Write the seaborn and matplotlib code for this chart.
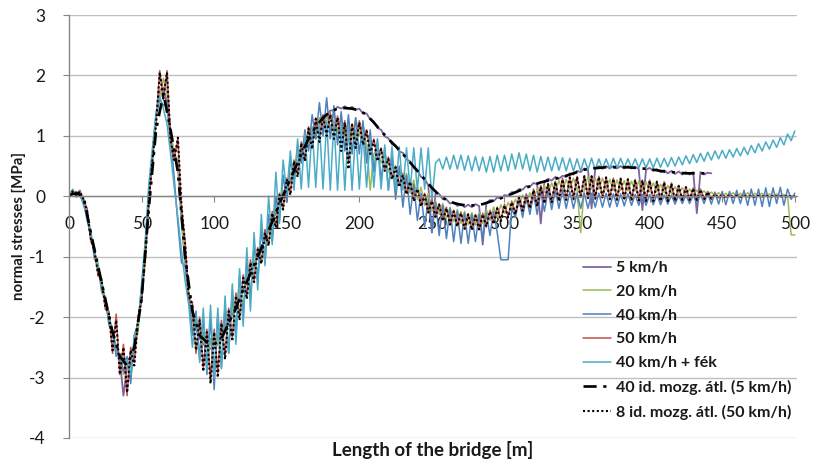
import numpy as np
import matplotlib
matplotlib.use("Agg")
import matplotlib.pyplot as plt
import seaborn as sns

# ---------------- data ----------------
X_FULL = np.arange(0, 500.01, 2.5)      # 20 / 40 / 50 km/h, fék, 8 id. átl.
X_5KMH = np.arange(0, 442.51, 2.5)      # 5 km/h
X_AVG40 = np.arange(0, 440.01, 5)       # 40 id. mozg. átl.

X_TICKS = [0, 50, 100, 150, 200, 250, 300, 350, 400, 450, 500]
Y_TICKS = [3, 2, 1, 0, -1, -2, -3, -4]
Y_TICK_LABELS = ["3", "2", "1", "0", "-1", "-2", "-3", "-4"]

V_5KMH = [
    0.0, 0.06, 0.07, 0.05, -0.05, -0.35, -0.68, -0.95, -1.2, -1.45, -1.72, -1.98, -2.25, -2.5, -2.7, -3.3, -2.82, -2.8, -2.5, -2.1,
    -1.65, -0.95, -0.1, 0.65, 1.3, 1.75, 1.8, 1.55, 0.9, 0.7, 0.5, -0.4, -1.1, -1.7, -2.05, -2.2, -2.35, -2.45, -2.5, -2.52,
    -2.5, -2.45, -2.38, -2.25, -2.1, -1.95, -1.82, -1.68, -1.55, -1.42, -1.28, -1.14, -1.0, -0.86, -0.72, -0.57, -0.42, -0.27, -0.12, 0.02,
    0.17, 0.27, 0.45, 0.55, 0.72, 0.81, 0.97, 1.04, 1.17, 1.22, 1.33, 1.34, 1.42, 1.42, 1.48, 1.45, 1.49, 1.45, 1.48, 1.43,
    1.45, 1.37, 1.37, 1.27, 1.24, 1.13, 1.1, 0.99, 0.96, 0.86, 0.84, 0.74, 0.72, 0.61, 0.58, 0.47, 0.43, 0.32, 0.29, 0.18,
    -0.6, 0.05, 0.04, -0.05, -0.05, -0.12, -0.1, -0.16, -0.13, -0.18, -0.14, -0.18, -0.13, -0.16, -0.8, -0.12, -0.06, -0.08, -0.02, -0.04,
    0.02, 0.01, 0.07, 0.06, 0.12, 0.11, 0.17, 0.16, 0.22, 0.2, -0.45, 0.24, 0.29, 0.26, 0.32, 0.29, 0.34, 0.32, 0.38, 0.36,
    0.42, 0.4, 0.46, 0.44, -0.2, 0.45, 0.5, 0.46, 0.5, 0.46, 0.5, 0.46, 0.5, 0.46, 0.5, 0.46, 0.49, 0.45, -0.23, 0.44,
    0.47, 0.42, 0.45, 0.4, 0.43, 0.38, 0.42, 0.37, 0.41, 0.36, 0.4, 0.36, 0.4, -0.28, 0.4, 0.36, 0.39, 0.38,
]

V_20KMH = [
    0.0, 0.12, -0.02, 0.08, -0.12, -0.35, -0.55, -1.05, -1.1, -1.6, -1.65, -2.15, -2.2, -2.6, -2.6, -2.95, -2.75, -3.0, -2.45, -2.25,
    -1.6, -1.1, 0.0, 0.55, 1.3, 1.65, 1.95, 1.7, 1.1, 0.7, 0.6, -0.35, -1.1, -1.6, -2.2, -2.05, -2.6, -2.25, -2.8, -2.35,
    -2.85, -2.3, -2.7, -2.1, -2.45, -1.8, -2.15, -1.55, -1.85, -1.3, -1.55, -1.05, -1.25, -0.8, -0.95, -0.45, -0.65, -0.15, -0.3, 0.1,
    -0.05, 0.4, 0.25, 0.7, 0.55, 0.95, 0.8, 1.15, 0.95, 1.3, 1.05, 1.35, 1.1, 1.38, 1.05, 1.3, 1.0, 1.25, 0.95, 1.3,
    1.0, 1.2, 0.85, 0.1, 0.7, 0.8, 0.55, 0.72, 0.4, 0.6, 0.28, 0.48, 0.15, 0.38, 0.05, 0.27, -0.05, 0.15, -0.15, 0.05,
    -0.25, -0.08, -0.3, -0.12, -0.37, -0.18, -0.42, -0.22, -0.45, -0.25, -0.47, -0.27, -0.48, -0.27, -0.45, -0.22, -0.4, -0.18, -0.35, -0.14,
    -0.28, -0.1, -0.22, -0.05, -0.16, 0.02, -0.12, 0.06, -0.06, 0.12, 0.0, 0.18, 0.04, 0.22, 0.08, 0.26, 0.1, 0.28, 0.12, 0.3,
    0.12, -0.6, 0.14, 0.32, 0.12, 0.3, 0.12, 0.3, 0.11, 0.28, 0.1, 0.27, 0.1, 0.26, 0.09, 0.25, 0.09, 0.25, 0.08, 0.24,
    0.08, 0.22, 0.07, 0.2, 0.06, 0.18, 0.05, 0.16, 0.05, 0.14, 0.04, 0.12, 0.03, 0.1, 0.02, 0.09, 0.02, 0.07, 0.01, 0.06,
    0.0, 0.05, 0.0, 0.06, -0.01, 0.05, 0.0, 0.06, -0.01, 0.05, 0.0, 0.05, 0.0, 0.04, 0.0, 0.04, 0.0, 0.03, 0.0, -0.64,
    -0.64,
]

V_40KMH = [
    0.0, 0.05, 0.08, 0.0, -0.1, -0.4, -0.6, -1.0, -1.15, -1.55, -1.7, -2.1, -2.25, -2.65, -2.6, -2.9, -2.65, -3.1, -2.3, -2.1,
    -1.5, -0.8, 0.1, 0.75, 1.35, 1.6, 1.5, 1.55, 1.0, 0.3, -0.45, -1.1, -1.15, -1.65, -2.3, -1.9, -2.7, -2.0, -2.95, -2.0,
    -3.2, -1.95, -2.85, -1.85, -2.6, -1.6, -2.3, -1.3, -2.0, -1.05, -1.7, -0.8, -1.4, -0.55, -1.1, -0.3, -0.75, 0.0, -0.4, 0.35,
    -0.1, 0.6, 0.25, 0.85, 0.55, 1.1, 0.75, 1.35, 0.95, 1.55, 1.0, 1.63, 0.95, 1.5, 0.85, 1.4, 0.75, 1.35, 0.7, 1.3,
    0.7, 1.25, 0.55, 1.1, 0.4, 0.95, 0.25, 0.8, 0.1, 0.65, -0.05, 0.5, -0.18, 0.35, -0.3, 0.2, -0.4, 0.05, -0.5, -0.05,
    -0.6, -0.1, -0.65, -0.15, -0.7, -0.2, -0.75, -0.25, -0.78, -0.28, -0.78, -0.3, -0.75, -0.3, -0.7, -0.28, -0.65, -0.25, -0.6, -1.05,
    -1.05, -1.05, -0.2, -0.35, -0.05, -0.35, 0.0, -0.3, 0.05, -0.3, 0.08, -0.25, 0.1, -0.22, 0.1, -0.2, 0.1, -0.2, 0.08, -0.2,
    0.05, -0.2, 0.05, -0.2, 0.05, -0.18, 0.05, -0.18, 0.05, -0.18, 0.04, -0.17, 0.04, -0.16, 0.04, -0.15, 0.03, -0.15, 0.03, -0.15,
    0.03, -0.14, 0.03, -0.14, 0.02, -0.13, 0.02, -0.13, 0.02, -0.12, 0.02, -0.12, 0.02, -0.12, 0.03, -0.12, 0.05, -0.13, 0.07, -0.13,
    0.08, -0.14, 0.08, -0.12, 0.1, -0.12, 0.1, -0.15, 0.12, -0.15, 0.12, -0.17, 0.14, -0.17, 0.14, -0.12, 0.15, -0.15, 0.12, -0.05,
    0.05,
]

V_50KMH = [
    0.0, 0.1, 0.0, 0.1, -0.08, -0.2, -0.75, -0.85, -1.32, -1.36, -1.87, -1.9, -2.6, -1.95, -2.95, -2.45, -3.3, -2.5, -2.75, -2.0,
    -1.75, -0.95, -0.1, 0.65, 1.25, 2.08, 1.6, 2.08, 0.9, 0.62, 0.95, -0.2, -0.75, -1.7, -1.75, -2.6, -2.0, -2.85, -2.2, -3.05,
    -2.2, -2.95, -2.05, -2.65, -1.85, -2.35, -1.6, -2.0, -1.3, -1.65, -1.05, -1.4, -0.85, -1.1, -0.55, -0.8, -0.25, -0.5, 0.05, -0.2,
    0.3, 0.05, 0.6, 0.35, 0.9, 0.6, 1.15, 0.8, 1.3, 0.95, 1.35, 1.05, 1.38, 1.05, 1.33, 0.95, 1.25, 0.55, 1.2, 0.9,
    1.25, 0.9, 1.1, 0.75, 0.95, 0.62, 0.8, 0.45, 0.65, 0.3, 0.5, 0.18, 0.38, 0.05, 0.27, -0.06, 0.15, -0.15, 0.05, -0.25,
    -0.05, -0.32, -0.12, -0.39, -0.18, -0.45, -0.23, -0.49, -0.26, -0.52, -0.29, -0.54, -0.3, -0.53, -0.28, -0.49, -0.23, -0.44, -0.18, -0.39,
    -0.13, -0.34, -0.08, -0.28, 0.0, -0.22, 0.04, -0.19, 0.12, -0.15, 0.18, -0.1, 0.21, -0.08, 0.25, -0.06, 0.3, -0.05, 0.32, -0.03,
    0.33, -0.02, 0.34, -0.02, 0.34, -0.03, 0.33, -0.03, 0.32, -0.04, 0.3, -0.05, 0.3, -0.05, 0.29, -0.06, 0.28, -0.06, 0.27, -0.07,
    0.27, -0.07, 0.25, -0.08, 0.24, -0.08, 0.22, -0.08, 0.18, -0.06, 0.16, -0.06, 0.14, -0.06, 0.12, -0.05, 0.08, -0.04, 0.04, -0.03,
    0.03, -0.02, 0.02, -0.02, 0.02, -0.01, 0.02, -0.01, 0.01, -0.01, 0.01, -0.01, 0.01, -0.01, 0.01, 0.0, 0.01, 0.0, 0.0, 0.0,
    0.0,
]

V_40KMH_FEK = [
    0.0, 0.1, 0.05, 0.05, -0.15, -0.3, -0.65, -0.9, -1.2, -1.45, -1.75, -2.0, -2.3, -2.55, -2.7, -2.75, -2.7, -2.95, -2.3, -2.15,
    -1.45, -0.75, 0.2, 0.8, 1.4, 1.65, 1.45, 1.2, 0.7, 0.15, -0.35, -0.9, -1.4, -1.8, -2.5, -1.95, -2.75, -1.85, -2.9, -1.8,
    -3.0, -1.85, -2.85, -1.65, -2.6, -1.45, -2.45, -1.2, -2.15, -0.85, -1.9, -0.6, -1.55, -0.3, -1.15, 0.0, -0.8, 0.4, -0.45, 0.6,
    0.05, 0.75, 0.1, 0.95, 0.12, 1.05, 0.15, 1.15, 0.15, 1.2, 0.12, 1.25, 0.1, 1.25, 0.1, 1.2, 0.1, 1.15, 0.1, 1.1,
    0.12, 1.05, 0.15, 0.95, 0.15, 0.9, 0.12, 0.85, 0.1, 0.82, 0.1, 0.82, 0.1, 0.8, 0.1, 0.8, 0.1, 0.8, 0.12, 0.8,
    -0.05, 0.55, 0.62, 0.45, 0.65, 0.45, 0.68, 0.45, 0.68, 0.43, 0.67, 0.42, 0.66, 0.42, 0.65, 0.4, 0.66, 0.4, 0.68, 0.42,
    0.68, 0.42, 0.7, 0.45, 0.72, 0.45, 0.7, 0.42, 0.68, 0.4, 0.66, 0.42, 0.65, 0.42, 0.65, 0.43, 0.64, 0.42, 0.63, 0.42,
    0.62, 0.42, 0.62, 0.44, 0.63, 0.44, 0.62, 0.45, 0.62, 0.46, 0.63, 0.47, 0.63, 0.47, 0.62, 0.47, 0.62, 0.47, 0.62, 0.47,
    0.62, 0.47, 0.63, 0.48, 0.63, 0.49, 0.64, 0.5, 0.65, 0.52, 0.67, 0.54, 0.69, 0.56, 0.71, 0.58, 0.73, 0.6, 0.75, 0.62,
    0.76, 0.63, 0.77, 0.65, 0.79, 0.67, 0.81, 0.69, 0.84, 0.72, 0.87, 0.75, 0.9, 0.78, 0.93, 0.81, 0.97, 0.85, 1.03, 0.92,
    1.08,
]

V_AVG40_5KMH = [
    0.02, 0.05, 0.0, -0.6, -1.15, -1.7, -2.25, -2.65, -2.8, -2.5,
    -1.7, -0.2, 1.1, 1.7, 1.1, 0.4, -1.0, -1.9, -2.3, -2.42,
    -2.45, -2.35, -2.1, -1.85, -1.55, -1.28, -1.0, -0.72, -0.42, -0.12,
    0.15, 0.42, 0.7, 0.95, 1.15, 1.3, 1.4, 1.45, 1.46, 1.45,
    1.42, 1.35, 1.22, 1.08, 0.95, 0.83, 0.7, 0.56, 0.42, 0.28,
    0.14, 0.02, -0.06, -0.11, -0.14, -0.15, -0.15, -0.13, -0.09, -0.05,
    -0.01, 0.04, 0.09, 0.14, 0.19, 0.23, 0.26, 0.29, 0.32, 0.36,
    0.4, 0.44, 0.46, 0.47, 0.48, 0.48, 0.48, 0.48, 0.47, 0.46,
    0.45, 0.43, 0.41, 0.4, 0.39, 0.38, 0.38, 0.38, 0.38,
]

V_AVG8_50KMH = [
    0.0, 0.08, 0.02, 0.08, -0.05, -0.25, -0.7, -0.9, -1.28, -1.4, -1.83, -1.95, -2.55, -2.05, -2.95, -2.5, -3.25, -2.55, -2.8, -2.05,
    -1.7, -1.0, -0.05, 0.6, 1.2, 2.05, 1.62, 2.05, 0.92, 0.6, 0.97, -0.15, -0.8, -1.65, -1.8, -2.55, -2.05, -2.9, -2.25, -3.1,
    -2.25, -3.0, -2.1, -2.7, -1.9, -2.4, -1.65, -2.05, -1.35, -1.7, -1.1, -1.42, -0.88, -1.12, -0.6, -0.82, -0.28, -0.52, 0.02, -0.22,
    0.28, 0.02, 0.58, 0.32, 0.88, 0.58, 1.12, 0.78, 1.28, 0.9, 1.32, 1.0, 1.35, 0.95, 1.3, 0.75, 1.22, 0.45, 1.18, 0.8,
    1.22, 0.85, 1.08, 0.7, 0.92, 0.58, 0.78, 0.42, 0.62, 0.28, 0.48, 0.15, 0.35, 0.03, 0.24, -0.08, 0.12, -0.17, 0.02, -0.27,
    -0.08, -0.34, -0.14, -0.41, -0.2, -0.47, -0.25, -0.5, -0.28, -0.54, -0.3, -0.56, -0.32, -0.55, -0.3, -0.5, -0.25, -0.46, -0.2, -0.41,
    -0.15, -0.35, -0.1, -0.3, -0.02, -0.24, 0.02, -0.2, 0.1, -0.17, 0.16, -0.12, 0.2, -0.1, 0.24, -0.08, 0.28, -0.06, 0.31, -0.05,
    0.32, -0.03, 0.33, -0.03, 0.33, -0.04, 0.32, -0.04, 0.31, -0.05, 0.29, -0.06, 0.29, -0.06, 0.28, -0.07, 0.27, -0.07, 0.26, -0.08,
    0.26, -0.08, 0.24, -0.08, 0.23, -0.08, 0.21, -0.08, 0.17, -0.06, 0.15, -0.06, 0.13, -0.06, 0.11, -0.05, 0.07, -0.04, 0.03, -0.02,
    0.02, -0.02, 0.02, -0.01, 0.01, -0.01, 0.01, -0.01, 0.01, -0.01, 0.01, 0.0, 0.01, 0.0, 0.0, 0.0, 0.0, 0.0, 0.0, 0.0,
    0.0,
]

LABELS = ["5 km/h", "20 km/h", "40 km/h", "50 km/h", "40 km/h + fék",
          "40 id. mozg. átl. (5 km/h)", "8 id. mozg. átl. (50 km/h)"]

# ---------------- figure ----------------
sns.set_theme(style="white")
plt.rcParams["font.family"] = ["Lato", "DejaVu Sans"]

W, H = 813, 463
fig = plt.figure(figsize=(W / 100, H / 100), dpi=100)
fig.patch.set_facecolor("white")
L, R, T, B = 69, 797, 15, 438
ax = fig.add_axes([L / W, 1 - B / H, (R - L) / W, (B - T) / H])

series = [
    (X_5KMH, V_5KMH, LABELS[0], "#8064A2", "-", 1.3),
    (X_FULL, V_20KMH, LABELS[1], "#9BBB59", "-", 1.1),
    (X_FULL, V_40KMH, LABELS[2], "#4F81BD", "-", 1.1),
    (X_FULL, V_50KMH, LABELS[3], "#C0504D", "-", 1.1),
    (X_FULL, V_40KMH_FEK, LABELS[4], "#4BACC6", "-", 1.1),
    (X_AVG40, V_AVG40_5KMH, LABELS[5], "black", (0, (5, 2.5, 1.2, 2.5)), 1.9),
    (X_FULL, V_AVG8_50KMH, LABELS[6], "black", (0, (1, 1.2)), 1.5),
]
for xs, ys, lab, col, ls, lw in series:
    assert len(xs) == len(ys), (lab, len(xs), len(ys))
    sns.lineplot(x=xs, y=ys, ax=ax, color=col, linestyle=ls, linewidth=lw,
                 label=lab, sort=False, estimator=None)

ax.set_xlim(0, 501.5)
ax.set_ylim(-4, 3)
ax.set_axisbelow(True)

ax.set_yticks(Y_TICKS)
ax.set_yticklabels(Y_TICK_LABELS)
ax.set_xticks(X_TICKS)
ax.set_xticklabels([str(v) for v in X_TICKS])

ax.yaxis.grid(True, color="#BFBFBF", linewidth=1.0)
ax.xaxis.grid(False)

for s in ["top", "right"]:
    ax.spines[s].set_visible(False)
ax.spines["left"].set_color("#868686")
ax.spines["left"].set_linewidth(1.0)
ax.spines["bottom"].set_position(("data", 0))
ax.spines["bottom"].set_color("#868686")
ax.spines["bottom"].set_linewidth(1.0)

ax.tick_params(axis="x", bottom=True, length=4, width=0.8, color="#868686",
               pad=10, labelsize=12.5, labelcolor="#1a1a1a")
ax.tick_params(axis="y", left=True, length=4.5, width=0.8, color="#868686",
               pad=12.5, labelsize=12.5, labelcolor="#1a1a1a")

ax.set_xlabel("Length of the bridge [m]", fontsize=13.5, fontweight="bold", color="#1a1a1a")
ax.set_ylabel("normal stresses [MPa]", fontsize=10.8, fontweight="bold", color="#1a1a1a")
ax.xaxis.set_label_coords(0.5, (B - 441) / (B - T))
ax.yaxis.set_label_coords((26 - L) / (R - L), 0.5)

leg = ax.legend(loc="upper left", bbox_to_anchor=(583 / W, 1 - 261 / H),
                bbox_transform=fig.transFigure, frameon=False,
                borderpad=0, borderaxespad=0, handlelength=1.75,
                handletextpad=0.3, labelspacing=0.6,
                prop={"weight": "bold", "size": 11.5})
for t in leg.get_texts():
    t.set_color("#1a1a1a")

fig.savefig("out.png", dpi=100, facecolor="white")
